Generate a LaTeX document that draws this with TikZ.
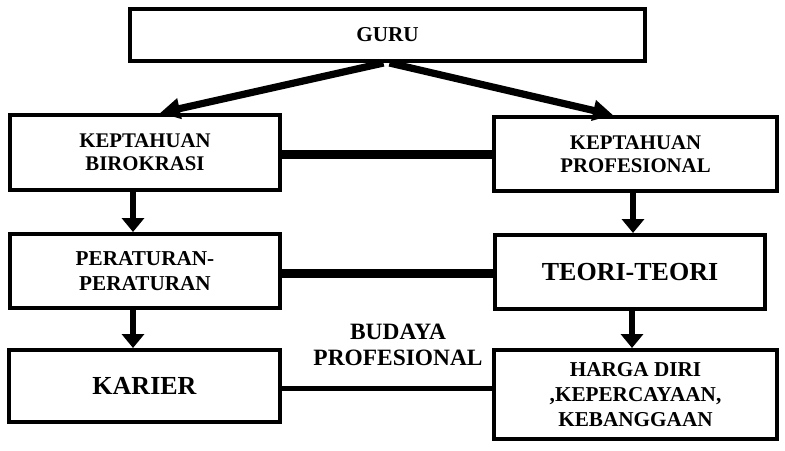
\documentclass[tikz,border=0pt]{standalone}
\usepackage{fontspec}
\setmainfont{Liberation Serif}
\usetikzlibrary{arrows.meta}

\begin{document}
\begin{tikzpicture}[x=0.5pt, y=0.5pt,
    box/.style={draw=black, line width=2pt, fill=white, inner sep=0pt, align=center,
        font=\fontsize{10.4}{11.7}\selectfont\bfseries},
    bigtext/.style={font=\fontsize{13}{15}\selectfont\bfseries},
    slantarrow/.style={draw=black, line width=3.6pt, -{Triangle[width=10pt, length=10pt]}},
    downarrow/.style={draw=black, line width=3pt, -{Triangle[width=11pt, length=7pt]}},
    link/.style={draw=black, line width=4.5pt},
    thinlink/.style={draw=black, line width=2.5pt}]
    \useasboundingbox (0,0) rectangle (785,-450);

    % Boxes
    \node[box, minimum width=257.5pt, minimum height=26pt,
        font=\fontsize{10.6}{12}\selectfont\bfseries] (guru) at (387.5,-35) {GURU};

    \node[box, minimum width=135pt, minimum height=37.5pt] (birokrasi) at (145,-152.5) {KEPTAHUAN\\BIROKRASI};
    \node[box, minimum width=141.5pt, minimum height=37pt] (profesional) at (635.5,-154) {KEPTAHUAN\\PROFESIONAL};

    \node[box, minimum width=135pt, minimum height=37pt,
        font=\fontsize{10.6}{12.5}\selectfont\bfseries] (peraturan) at (145,-271) {PERATURAN-\\PERATURAN};
    \node[box, bigtext, minimum width=135pt, minimum height=37pt] (teori) at (630,-272) {TEORI-TEORI};

    \node[box, bigtext, minimum width=135.5pt, minimum height=36pt] (karier) at (144.5,-386) {KARIER};
    \node[box, minimum width=141.5pt, minimum height=44.5pt,
        font=\fontsize{10.6}{12.5}\selectfont\bfseries] (harga) at (635.5,-394.5) {HARGA DIRI\\,KEPERCAYAAN,\\KEBANGGAAN};

    % Middle label
    \node[align=center, font=\fontsize{11.7}{13}\selectfont\bfseries] (budaya) at (398,-345) {BUDAYA\\PROFESIONAL};

    % Horizontal links
    \draw[link] (birokrasi.east |- 0,-154) -- (profesional.west |- 0,-154);
    \draw[link] (peraturan.east |- 0,-273) -- (teori.west |- 0,-273);
    \draw[thinlink] (karier.east |- 0,-388) -- (harga.west |- 0,-388);

    % Arrows from GURU
    \draw[slantarrow] ([xshift=-2pt]guru.south) -- ([xshift=7.5pt]birokrasi.north);
    \draw[slantarrow] ([xshift=1pt]guru.south) -- ([xshift=-11.25pt]profesional.north);

    % Down arrows
    \draw[downarrow] ([xshift=-6pt]birokrasi.south) -- ([xshift=-6pt]peraturan.north);
    \draw[downarrow] ([xshift=-6pt]peraturan.south) -- ([xshift=-6pt]peraturan.south |- karier.north);
    \draw[downarrow] ([xshift=-1.25pt]profesional.south) -- ([xshift=-1.25pt]profesional.south |- teori.north);
    \draw[downarrow] ([xshift=1pt]teori.south) -- ([xshift=1pt]teori.south |- harga.north);
\end{tikzpicture}
\end{document}
